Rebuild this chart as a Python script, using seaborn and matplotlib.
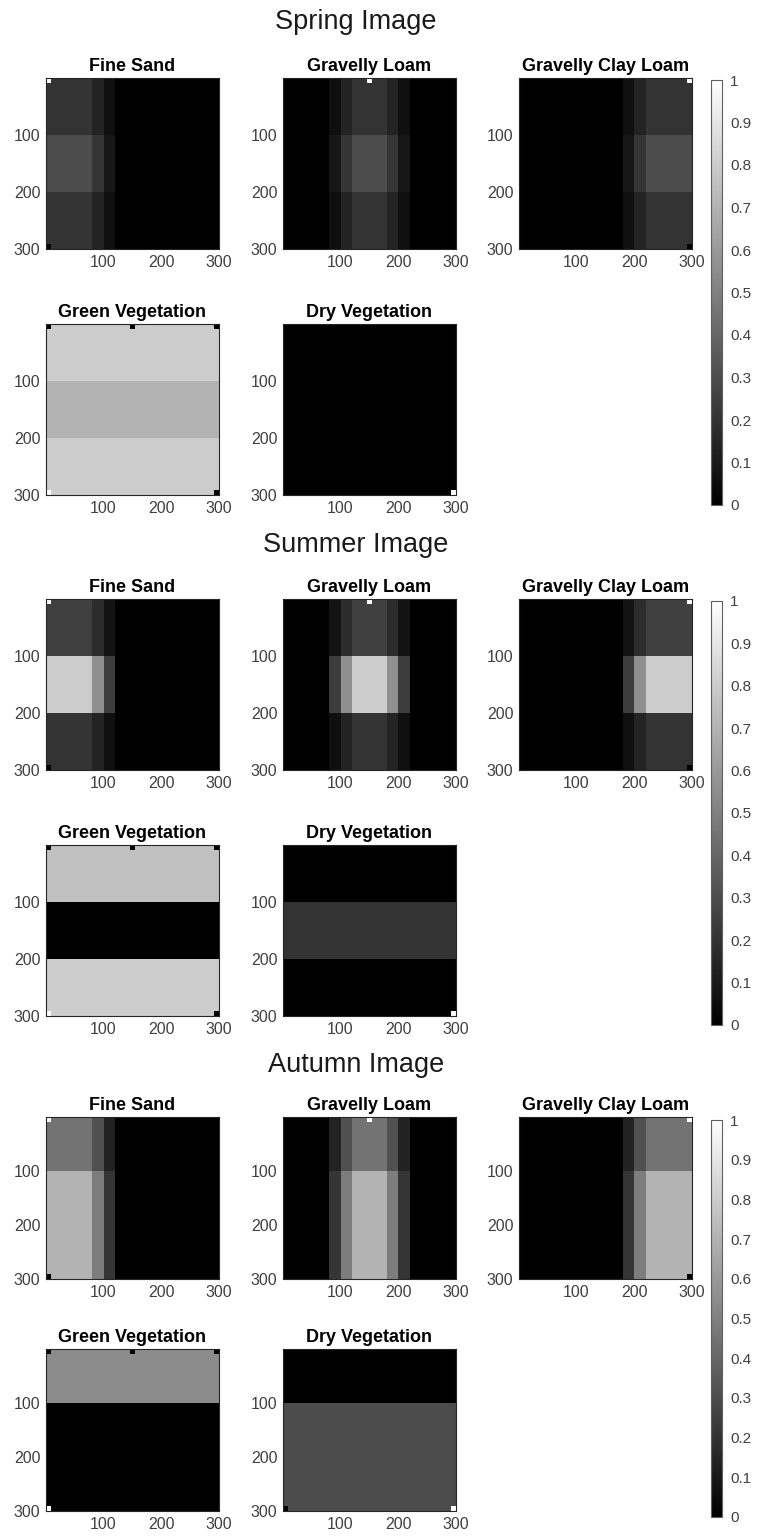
import numpy as np
import matplotlib
matplotlib.use("Agg")
import matplotlib.pyplot as plt
import matplotlib.colors as mcolors
import matplotlib.cm as cm
import seaborn as sns

# ---------------------------------------------------------------- data
seasons = ["Spring", "Summer", "Autumn"]
endmembers = ["Fine Sand", "Gravelly Loam", "Gravelly Clay Loam",
              "Green Vegetation", "Dry Vegetation"]

# scene is 300 x 300 pixels split into horizontal bands and vertical strips
row_edges = [0, 100, 200, 300]
col_edges = [0, 80, 100, 120, 180, 200, 220, 300]

# share of each soil type inside the soil fraction of every vertical strip
fine_sand_mix = [1.0, 0.7, 0.3, 0.0, 0.0, 0.0, 0.0]
gravelly_loam_mix = [0.0, 0.3, 0.7, 1.0, 0.7, 0.3, 0.0]
gravelly_clay_loam_mix = [0.0, 0.0, 0.0, 0.0, 0.3, 0.7, 1.0]

# per-band cover fractions for each season (top, middle, bottom band)
soil_cover = {"Spring": [0.20, 0.30, 0.20],
              "Summer": [0.25, 0.80, 0.20],
              "Autumn": [0.45, 0.70, 0.70]}
green_veg_cover = {"Spring": [0.80, 0.70, 0.80],
                   "Summer": [0.75, 0.00, 0.80],
                   "Autumn": [0.55, 0.00, 0.00]}
dry_veg_cover = {"Spring": [0.00, 0.00, 0.00],
                 "Summer": [0.00, 0.20, 0.00],
                 "Autumn": [0.00, 0.30, 0.30]}

# pure endmember pixels (row, col, 1-based centre of a 9x9 patch)
pure_pixels = {"Fine Sand": (5, 5),
               "Gravelly Loam": (5, 150),
               "Gravelly Clay Loam": (5, 296),
               "Green Vegetation": (296, 5),
               "Dry Vegetation": (296, 296)}
pure_half = 4

tick_values = [100, 200, 300]
cbar_ticks = [0, 0.1, 0.2, 0.3, 0.4, 0.5, 0.6, 0.7, 0.8, 0.9, 1]
cbar_labels = ["0", "0.1", "0.2", "0.3", "0.4", "0.5", "0.6", "0.7", "0.8", "0.9", "1"]


def band_image(band_vals, strip_vals, strip_edges):
    img = np.zeros((300, 300))
    for i in range(len(row_edges) - 1):
        for j in range(len(strip_edges) - 1):
            img[row_edges[i]:row_edges[i + 1],
                strip_edges[j]:strip_edges[j + 1]] = band_vals[i] * strip_vals[j]
    return img


def abundance(season, name):
    if name == "Fine Sand":
        img = band_image(soil_cover[season], fine_sand_mix, col_edges)
    elif name == "Gravelly Loam":
        img = band_image(soil_cover[season], gravelly_loam_mix, col_edges)
    elif name == "Gravelly Clay Loam":
        img = band_image(soil_cover[season], gravelly_clay_loam_mix, col_edges)
    elif name == "Green Vegetation":
        img = band_image(green_veg_cover[season], [1.0], [0, 300])
    else:
        img = band_image(dry_veg_cover[season], [1.0], [0, 300])
    for other, (r, c) in pure_pixels.items():
        r0, c0 = r - 1 - pure_half, c - 1 - pure_half
        img[r0:r0 + 2 * pure_half + 1, c0:c0 + 2 * pure_half + 1] = 1.0 if other == name else 0.0
    return img


# ---------------------------------------------------------------- style
sns.set_style("white")
plt.rcParams["font.family"] = ["Liberation Sans", "DejaVu Sans"]

W, H = 757, 1538
fig = plt.figure(figsize=(W / 100, H / 100), dpi=100)

col_x = [46, 283, 519]
panel_w = 173
layout = {
    "Spring": dict(title_y=22, rows=(78, 324), ph=171, cbar=(80, 505)),
    "Summer": dict(title_y=545, rows=(599, 845), ph=171, cbar=(601, 1025)),
    "Autumn": dict(title_y=1065, rows=(1117, 1349), ph=162, cbar=(1120, 1517)),
}
slots = [(0, 0), (0, 1), (0, 2), (1, 0), (1, 1)]

tick_color = "#404040"
edge_color = "#262626"
norm = mcolors.Normalize(vmin=0, vmax=1)

for season in seasons:
    L = layout[season]
    fig.text(356 / W, 1 - L["title_y"] / H, f"{season} Image",
             ha="center", va="center", fontsize=19.5, color="#1a1a1a")
    for name, (ri, ci) in zip(endmembers, slots):
        top = L["rows"][ri]
        ph = L["ph"]
        ax = fig.add_axes([col_x[ci] / W, 1 - (top + ph) / H, panel_w / W, ph / H])
        sns.heatmap(abundance(season, name), ax=ax, cmap="gray", vmin=0, vmax=1,
                    cbar=False, xticklabels=False, yticklabels=False,
                    rasterized=True)
        for sp in ax.spines.values():
            sp.set_visible(True)
            sp.set_color(edge_color)
            sp.set_linewidth(0.8)
        pos = [v - 0.5 for v in tick_values]
        ax.set_xticks(pos)
        ax.set_xticklabels([str(v) for v in tick_values])
        ax.set_yticks(pos)
        ax.set_yticklabels([str(v) for v in tick_values], rotation=0)
        ax.tick_params(axis="both", direction="in", length=3, width=0.6,
                       color=edge_color, labelsize=11.5, labelcolor=tick_color,
                       pad=4, top=True, right=True, bottom=True, left=True)
        ax.set_title(name, fontsize=13, fontweight="bold", color="black", pad=5)

    c0, c1 = L["cbar"]
    cax = fig.add_axes([711 / W, 1 - c1 / H, 11 / W, (c1 - c0) / H])
    sm = cm.ScalarMappable(norm=norm, cmap="gray")
    cb = fig.colorbar(sm, cax=cax, ticks=cbar_ticks)
    cb.ax.set_yticklabels(cbar_labels)
    cb.outline.set_edgecolor("#606060")
    cb.outline.set_linewidth(0.8)
    cb.ax.tick_params(direction="in", length=3, width=0.6, color="#404040",
                      labelsize=11, labelcolor=tick_color, pad=6)

fig.savefig("out.png", dpi=100)
